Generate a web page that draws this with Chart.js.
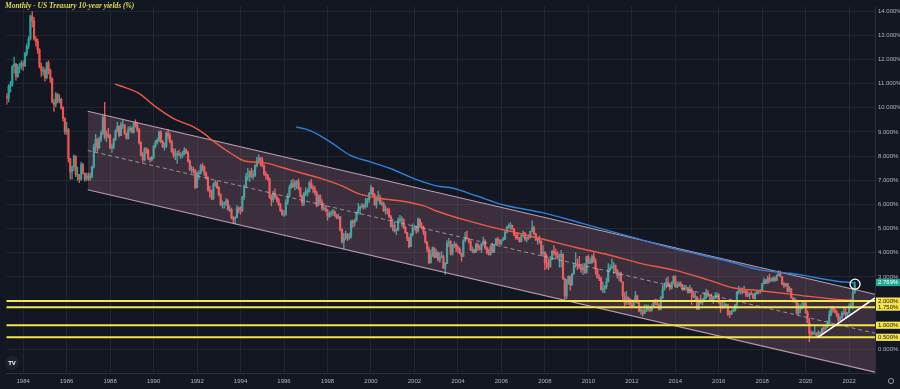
<!DOCTYPE html>
<html><head><meta charset="utf-8">
<script src="https://cdn.jsdelivr.net/npm/chart.js@4.4.0/dist/chart.umd.min.js"></script>
<style>html,body{margin:0;padding:0;background:#131722;overflow:hidden}canvas{display:block}</style>
</head><body><canvas id="c" width="900" height="389"></canvas>
<script>
// ---------- DATA ----------
const title = 'Monthly - US Treasury 10-year yields (%)';
const startYear = 1983, startMonth = 4;   // first monthly candle: April 1983
const firstOpen = 10.50;
const closes = [
/*1983*/ 10.40,10.90,10.98,11.70,11.80,11.30,11.70,11.70,11.83,
/*1984*/ 11.75,12.25,12.55,12.85,13.80,13.60,12.85,12.75,12.40,11.70,11.55,11.55,
/*1985*/ 11.25,11.85,11.55,11.20,10.25,10.15,10.55,10.30,10.35,10.00,9.55,9.00,
/*1986*/ 9.10,7.90,7.35,7.55,8.00,7.25,7.25,7.05,7.65,7.30,7.05,7.20,
/*1987*/ 7.10,7.15,7.55,8.40,8.70,8.35,8.70,8.95,9.60,8.80,8.90,8.85,
/*1988*/ 8.35,8.40,8.70,9.05,9.25,8.85,9.30,9.30,8.95,8.75,9.10,9.15,
/*1989*/ 9.00,9.35,9.30,9.10,8.55,8.05,7.85,8.30,8.25,7.90,7.85,7.95,
/*1990*/ 8.40,8.55,8.65,9.00,8.60,8.40,8.40,8.95,8.85,8.60,8.20,8.05,
/*1991*/ 8.05,8.10,8.05,8.05,8.10,8.25,8.15,7.80,7.45,7.45,7.40,6.70,
/*1992*/ 7.30,7.30,7.60,7.55,7.30,7.10,6.60,6.55,6.25,6.80,6.90,6.70,
/*1993*/ 6.40,6.00,6.00,6.05,6.15,5.80,5.80,5.45,5.40,5.45,5.85,5.80,
/*1994*/ 5.75,6.30,6.75,7.15,7.20,7.35,7.15,7.20,7.60,7.80,7.90,7.85,
/*1995*/ 7.60,7.25,7.20,7.05,6.30,6.20,6.45,6.30,6.20,6.00,5.75,5.60,
/*1996*/ 5.60,6.10,6.35,6.70,6.85,6.75,6.90,6.95,6.70,6.35,6.05,6.45,
/*1997*/ 6.55,6.55,6.90,6.70,6.65,6.50,5.95,6.35,6.10,5.85,5.85,5.75,
/*1998*/ 5.50,5.60,5.65,5.70,5.55,5.45,5.50,4.95,4.45,4.60,4.75,4.65,
/*1999*/ 4.65,5.30,5.25,5.35,5.65,5.80,5.90,5.95,5.90,6.05,6.20,6.45,
/*2000*/ 6.70,6.40,6.00,6.20,6.30,6.05,6.05,5.75,5.80,5.75,5.50,5.10,
/*2001*/ 5.15,4.90,4.95,5.35,5.40,5.40,5.05,4.85,4.60,4.25,4.75,5.05,
/*2002*/ 5.05,4.90,5.40,5.10,5.05,4.85,4.45,4.15,3.60,3.90,4.20,3.80,
/*2003*/ 4.00,3.70,3.80,3.85,3.35,3.55,4.40,4.45,3.95,4.30,4.35,4.25,
/*2004*/ 4.15,3.97,3.85,4.50,4.65,4.60,4.47,4.12,4.12,4.03,4.35,4.22,
/*2005*/ 4.13,4.36,4.48,4.20,4.00,3.92,4.28,4.02,4.33,4.57,4.49,4.39,
/*2006*/ 4.53,4.55,4.85,5.05,5.12,5.14,4.98,4.73,4.63,4.60,4.46,4.70,
/*2007*/ 4.82,4.56,4.64,4.63,4.89,5.03,4.77,4.53,4.58,4.47,3.97,4.03,
/*2008*/ 3.59,3.51,3.41,3.73,4.06,3.97,3.95,3.81,3.83,3.95,2.92,2.21,
/*2009*/ 2.84,3.02,2.67,3.12,3.46,3.53,3.48,3.40,3.31,3.41,3.20,3.84,
/*2010*/ 3.61,3.61,3.84,3.66,3.31,2.97,2.94,2.47,2.52,2.60,2.79,3.30,
/*2011*/ 3.37,3.42,3.47,3.29,3.06,3.16,2.80,2.22,1.92,2.17,2.08,1.88,
/*2012*/ 1.80,1.98,2.21,1.92,1.58,1.65,1.49,1.57,1.64,1.70,1.62,1.76,
/*2013*/ 1.99,1.88,1.85,1.67,2.13,2.49,2.60,2.78,2.61,2.55,2.75,3.03,
/*2014*/ 2.64,2.65,2.72,2.65,2.48,2.53,2.56,2.35,2.49,2.34,2.16,2.17,
/*2015*/ 1.67,2.00,1.93,2.05,2.12,2.35,2.20,2.21,2.04,2.14,2.21,2.27,
/*2016*/ 1.92,1.74,1.77,1.83,1.85,1.47,1.45,1.58,1.59,1.83,2.37,2.44,
/*2017*/ 2.45,2.39,2.39,2.28,2.21,2.31,2.29,2.12,2.33,2.38,2.41,2.40,
/*2018*/ 2.72,2.87,2.74,2.95,2.83,2.86,2.96,2.86,3.06,3.15,3.01,2.69,
/*2019*/ 2.63,2.72,2.41,2.51,2.13,2.01,2.02,1.50,1.67,1.69,1.78,1.92,
/*2020*/ 1.51,1.13,0.67,0.64,0.65,0.66,0.53,0.70,0.68,0.88,0.84,0.91,
/*2021*/ 1.07,1.44,1.74,1.63,1.58,1.47,1.22,1.31,1.49,1.55,1.44,1.51,
/*2022*/ 1.78,1.83,2.34,2.769
];
const highs = [
/*1983*/ 10.60,10.95,11.10,11.75,12.10,11.85,11.80,11.85,11.95,
/*1984*/ 11.95,12.30,12.65,12.95,13.85,13.98,13.75,12.95,12.85,12.45,11.85,11.70,
/*1985*/ 11.65,11.90,11.95,11.60,11.25,10.35,10.65,10.60,10.55,10.40,10.05,9.60,
/*1986*/ 9.40,9.15,7.90,7.60,8.05,8.00,7.55,7.25,7.75,7.70,7.30,7.30,
/*1987*/ 7.30,7.30,7.60,8.50,8.90,8.75,8.80,9.05,9.70,10.23,9.05,9.15,
/*1988*/ 8.90,8.50,8.75,9.10,9.40,9.25,9.40,9.50,9.30,8.95,9.20,9.25,
/*1989*/ 9.20,9.40,9.50,9.40,9.15,8.60,8.15,8.35,8.35,8.30,7.95,8.00,
/*1990*/ 8.45,8.65,8.75,9.05,9.05,8.65,8.55,9.00,9.10,8.95,8.65,8.30,
/*1991*/ 8.30,8.20,8.25,8.15,8.20,8.35,8.30,8.20,7.85,7.60,7.55,7.45,
/*1992*/ 7.35,7.40,7.65,7.70,7.60,7.35,7.15,6.75,6.60,6.90,7.00,6.95,
/*1993*/ 6.75,6.45,6.15,6.10,6.25,6.20,5.95,5.85,5.50,5.50,5.95,5.90,
/*1994*/ 5.90,6.35,6.80,7.30,7.50,7.40,7.50,7.40,7.65,7.95,8.05,7.95,
/*1995*/ 7.95,7.65,7.35,7.25,7.10,6.40,6.55,6.65,6.40,6.25,6.05,5.80,
/*1996*/ 5.75,6.20,6.45,6.80,7.00,7.05,7.00,7.00,7.05,6.70,6.40,6.50,
/*1997*/ 6.70,6.65,6.95,7.05,6.80,6.75,6.55,6.40,6.40,6.20,6.05,5.95,
/*1998*/ 5.80,5.70,5.75,5.80,5.75,5.60,5.60,5.50,5.00,4.80,4.90,4.80,
/*1999*/ 4.80,5.35,5.35,5.40,5.70,6.05,5.95,6.05,6.00,6.25,6.25,6.50,
/*2000*/ 6.80,6.70,6.45,6.35,6.55,6.40,6.15,6.10,5.95,5.85,5.85,5.55,
/*2001*/ 5.40,5.25,5.00,5.45,5.55,5.50,5.40,5.10,4.85,4.65,4.80,5.20,
/*2002*/ 5.15,5.10,5.45,5.40,5.25,5.10,4.90,4.45,4.25,4.10,4.25,4.20,
/*2003*/ 4.15,4.05,4.00,4.05,3.90,3.60,4.50,4.60,4.50,4.35,4.45,4.40,
/*2004*/ 4.30,4.20,4.00,4.55,4.85,4.90,4.60,4.50,4.25,4.15,4.40,4.40,
/*2005*/ 4.30,4.40,4.65,4.55,4.25,4.15,4.30,4.40,4.35,4.60,4.65,4.55,
/*2006*/ 4.55,4.65,4.90,5.10,5.20,5.25,5.15,5.00,4.80,4.80,4.65,4.72,
/*2007*/ 4.90,4.85,4.65,4.75,4.90,5.32,5.10,4.82,4.65,4.70,4.50,4.30,
/*2008*/ 4.05,3.95,3.75,3.85,4.10,4.30,4.15,4.05,3.95,4.10,3.95,2.95,
/*2009*/ 2.90,3.05,3.05,3.15,3.55,4.00,3.75,3.85,3.50,3.55,3.55,3.85,
/*2010*/ 3.90,3.75,3.90,4.00,3.75,3.35,3.10,3.00,2.80,2.65,2.95,3.55,
/*2011*/ 3.50,3.75,3.60,3.50,3.30,3.20,3.20,2.80,2.35,2.40,2.15,2.10,
/*2012*/ 2.05,2.05,2.40,2.25,1.95,1.70,1.65,1.85,1.85,1.85,1.75,1.85,
/*2013*/ 2.05,2.08,2.07,1.90,2.20,2.65,2.75,2.95,3.00,2.75,2.80,3.05,
/*2014*/ 3.05,2.80,2.80,2.80,2.70,2.65,2.65,2.55,2.65,2.55,2.40,2.35,
/*2015*/ 2.20,2.10,2.25,2.10,2.35,2.50,2.45,2.25,2.30,2.20,2.35,2.35,
/*2016*/ 2.30,2.00,2.00,1.95,1.90,1.85,1.60,1.62,1.75,1.87,2.40,2.62,
/*2017*/ 2.55,2.55,2.62,2.45,2.42,2.35,2.40,2.30,2.35,2.45,2.42,2.48,
/*2018*/ 2.75,2.95,2.90,3.03,3.12,2.95,3.00,3.00,3.10,3.25,3.24,3.00,
/*2019*/ 2.78,2.74,2.72,2.60,2.52,2.15,2.14,2.05,1.90,1.85,1.97,1.94,
/*2020*/ 1.95,1.60,1.28,0.77,0.75,0.96,0.70,0.78,0.72,0.88,0.98,0.97,
/*2021*/ 1.18,1.61,1.78,1.77,1.70,1.62,1.48,1.37,1.57,1.70,1.69,1.52,
/*2022*/ 1.90,2.06,2.50,2.80
];
const lows = [
/*1983*/ 10.15,10.25,10.65,10.90,11.45,11.15,11.25,11.45,11.60,
/*1984*/ 11.55,11.70,12.15,12.45,12.80,13.35,12.80,12.55,12.25,11.65,11.30,11.35,
/*1985*/ 11.10,11.20,11.40,11.05,10.20,9.85,10.05,10.20,10.20,9.95,9.45,8.90,
/*1986*/ 8.90,7.75,7.05,7.05,7.40,7.15,7.00,6.90,7.00,7.25,6.95,7.00,
/*1987*/ 7.00,7.00,7.10,7.50,8.20,8.20,8.30,8.60,8.90,8.70,8.60,8.75,
/*1988*/ 8.30,8.15,8.30,8.65,9.00,8.80,8.85,9.15,8.90,8.70,8.70,9.00,
/*1989*/ 8.95,8.95,9.20,9.00,8.50,8.00,7.75,7.80,8.10,7.85,7.75,7.80,
/*1990*/ 7.90,8.35,8.50,8.60,8.55,8.35,8.25,8.35,8.70,8.55,8.15,7.95,
/*1991*/ 7.85,7.70,8.00,7.90,7.95,8.05,8.10,7.75,7.40,7.30,7.30,6.65,
/*1992*/ 6.70,7.05,7.25,7.40,7.20,7.05,6.55,6.30,6.20,6.20,6.75,6.65,
/*1993*/ 6.35,5.95,5.85,5.85,5.95,5.75,5.70,5.40,5.25,5.20,5.45,5.65,
/*1994*/ 5.60,5.70,6.20,6.70,7.00,6.95,7.10,7.05,7.15,7.55,7.70,7.60,
/*1995*/ 7.55,7.20,7.05,7.00,6.25,5.95,6.10,6.25,6.10,5.95,5.70,5.55,
/*1996*/ 5.50,5.55,6.00,6.30,6.65,6.70,6.60,6.65,6.60,6.30,5.95,5.95,
/*1997*/ 6.35,6.35,6.50,6.65,6.50,6.40,5.90,5.95,6.05,5.75,5.75,5.70,
/*1998*/ 5.35,5.45,5.50,5.55,5.50,5.40,5.40,4.90,4.40,4.15,4.55,4.50,
/*1999*/ 4.55,4.60,5.05,5.10,5.30,5.60,5.60,5.85,5.80,5.85,5.90,6.10,
/*2000*/ 6.40,6.35,5.95,5.85,6.15,6.00,5.95,5.70,5.60,5.60,5.45,5.05,
/*2001*/ 4.90,4.85,4.75,4.90,5.25,5.10,5.00,4.80,4.50,4.20,4.25,4.70,
/*2002*/ 4.95,4.80,4.85,5.05,5.00,4.75,4.40,4.05,3.55,3.57,3.85,3.80,
/*2003*/ 3.80,3.65,3.60,3.80,3.35,3.10,3.55,4.25,3.90,3.90,4.20,4.05,
/*2004*/ 4.00,3.95,3.65,3.85,4.45,4.55,4.40,4.10,4.00,3.98,4.00,4.10,
/*2005*/ 4.10,4.00,4.30,4.15,3.95,3.90,3.90,4.00,4.00,4.30,4.35,4.35,
/*2006*/ 4.32,4.50,4.55,4.82,5.00,4.98,4.96,4.70,4.55,4.55,4.44,4.45,
/*2007*/ 4.65,4.50,4.45,4.55,4.60,4.85,4.75,4.50,4.35,4.40,3.90,3.85,
/*2008*/ 3.30,3.35,3.30,3.40,3.70,3.90,3.75,3.75,3.40,3.40,2.90,2.05,
/*2009*/ 2.10,2.70,2.45,2.65,3.10,3.40,3.30,3.35,3.20,3.10,3.15,3.15,
/*2010*/ 3.55,3.55,3.55,3.60,3.10,2.95,2.85,2.45,2.35,2.35,2.50,2.80,
/*2011*/ 3.25,3.35,3.15,3.20,2.95,2.85,2.78,2.05,1.72,1.85,1.85,1.80,
/*2012*/ 1.80,1.80,1.95,1.90,1.55,1.45,1.38,1.47,1.55,1.58,1.55,1.58,
/*2013*/ 1.76,1.85,1.82,1.62,1.63,2.10,2.45,2.55,2.60,2.45,2.50,2.70,
/*2014*/ 2.60,2.58,2.60,2.58,2.43,2.45,2.45,2.33,2.34,1.86,2.15,2.05,
/*2015*/ 1.65,1.65,1.88,1.85,2.00,2.10,2.20,2.00,2.00,1.90,2.10,2.10,
/*2016*/ 1.90,1.53,1.70,1.70,1.80,1.40,1.32,1.50,1.55,1.59,1.70,2.30,
/*2017*/ 2.30,2.30,2.35,2.17,2.18,2.10,2.27,2.09,2.03,2.28,2.30,2.33,
/*2018*/ 2.40,2.70,2.73,2.73,2.76,2.82,2.80,2.81,2.85,3.05,3.00,2.68,
/*2019*/ 2.55,2.61,2.37,2.38,2.12,1.97,1.94,1.46,1.43,1.52,1.68,1.75,
/*2020*/ 1.50,1.10,0.32,0.55,0.60,0.61,0.52,0.50,0.62,0.65,0.74,0.83,
/*2021*/ 0.90,1.06,1.39,1.53,1.51,1.35,1.13,1.17,1.26,1.43,1.33,1.34,
/*2022*/ 1.50,1.72,1.67,2.32
];
// moving averages
const redYears  = [1988.22,1988.70,1989.31,1990.07,1990.99,1991.75,1992.36,1992.81,1993.58,1994.19,1995.10,1996.32,1997.69,1998.75,1999.36,2000.27,2001.49,2002.41,2003.01,2003.78,2004.23,2005.60,2006.65,2007.89,2009.39,2010.95,2012.45,2013.96,2015.51,2016.70,2017.80,2019.30,2020.08,2021.59,2022.27];
const redValues = [10.98,10.84,10.61,10.06,9.52,9.25,8.91,8.58,8.10,7.80,7.72,7.42,7.08,6.74,6.47,6.27,6.13,5.95,5.73,5.50,5.38,5.05,4.84,4.57,4.23,3.91,3.55,3.28,2.88,2.54,2.44,2.29,2.20,2.06,2.03];
const blueYears  = [1996.55,1997.23,1998.14,1999.06,1999.97,2000.89,2001.95,2003.01,2003.78,2004.84,2006.06,2007.89,2009.71,2011.69,2013.97,2016.26,2017.94,2019.30,2021.59,2022.27];
const blueValues = [9.21,9.05,8.58,8.03,7.76,7.49,7.08,6.77,6.67,6.36,5.99,5.66,5.22,4.73,4.16,3.69,3.28,3.15,2.80,2.76];
// regression channel
const channelYears = [1986.97, 2023.19];
const channelUpper = [9.86, 2.28];
const channelMid   = [8.235, 0.67];
const channelLower = [6.61, -0.94];
// horizontal levels and trendline
const levels = [2.0, 1.75, 1.0, 0.5];
const trendYears = [2020.54, 2023.19];
const trendValues = [0.49, 2.13];
const markYear = 2022.27, markValue = 2.70;
const lastPrice = 2.769;
const xTickYears = [1984,1986,1988,1990,1992,1994,1996,1998,2000,2002,2004,2006,2008,2010,2012,2014,2016,2018,2020,2022];
const yTickValues = [0,1,2,3,4,5,6,7,8,9,10,11,12,13,14];

// ---------- STYLE ----------
const X_MIN = 1983.224, X_MAX = 2023.187, Y_MIN = -0.977, Y_MAX = 14.2035;
const BG = '#131722', UP = '#26a69a', DOWN = '#ef5350', YELLOW = '#f5e44b';
const GRID = 'rgba(42,46,57,0.6)', AXIS = '#2a2e39', TXT = '#b2b5be';

// ---------- BUILD ----------
const wickData = [], bodyData = [], colors = [];
for (let i = 0; i < closes.length; i++) {
  const t = startYear + (startMonth - 1 + i) / 12;
  const o = i === 0 ? firstOpen : closes[i - 1];
  const c = closes[i];
  const h = Math.max(o, c, highs[i] ?? c);
  const l = Math.min(o, c, lows[i] ?? c);
  wickData.push({x: t, y: [l, h]});
  bodyData.push({x: t, y: [o, c]});
  colors.push(c >= o ? UP : DOWN);
}
const pts = (xs, ys) => xs.map((x, i) => ({x, y: ys[i]}));
const lineDS = (data, color, width, order, extra) => Object.assign({
  type: 'line', data, borderColor: color, borderWidth: width, pointRadius: 0,
  fill: false, tension: 0, order
}, extra || {});

const datasets = [
  lineDS([{x: markYear, y: markValue}], '#ffffff', 0, 0, {showLine: false, pointRadius: 5, pointBorderColor: '#ffffff', pointBackgroundColor: 'rgba(0,0,0,0)', pointBorderWidth: 1.3}),
  lineDS(pts(trendYears, trendValues), '#ffffff', 1.6, 1),
  ...levels.map((v, k) => lineDS([{x: X_MIN, y: v}, {x: X_MAX, y: v}], YELLOW, 2, 2 + k)),
  lineDS(pts(blueYears, blueValues), '#2f7fd8', 1.4, 6, {cubicInterpolationMode: 'monotone'}),
  lineDS(pts(redYears, redValues), '#ec5a45', 1.4, 7, {cubicInterpolationMode: 'monotone'}),
  lineDS(pts(channelYears, channelMid), 'rgba(200,185,200,0.7)', 1, 8, {borderDash: [4, 3]}),
  lineDS(pts(channelYears, channelUpper), 'rgba(215,180,200,0.85)', 1.1, 9, {fill: '+1', backgroundColor: 'rgba(219,143,169,0.2)'}),
  lineDS(pts(channelYears, channelLower), 'rgba(215,180,200,0.85)', 1.1, 10),
  {type: 'bar', data: bodyData, backgroundColor: colors, borderWidth: 0, barThickness: 1.5, grouped: false, minBarLength: 0.8, order: 11},
  {type: 'bar', data: wickData, backgroundColor: colors, borderWidth: 0, barThickness: 0.7, grouped: false, order: 12}
];

const deco = {
  id: 'deco',
  beforeDraw(chart) {
    const {ctx, width, height} = chart;
    ctx.save(); ctx.fillStyle = BG; ctx.fillRect(0, 0, width, height); ctx.restore();
  },
  afterDraw(chart) {
    const {ctx, chartArea} = chart;
    const ys = chart.scales.y;
    const left = chartArea.right;
    ctx.save();
    ctx.font = '6px "Liberation Sans", Arial, sans-serif';
    ctx.textBaseline = 'middle';
    ctx.textAlign = 'left';
    // current price tag
    let py = ys.getPixelForValue(lastPrice);
    ctx.fillStyle = '#22ab94';
    ctx.fillRect(left + 1, py - 3.6, 25, 7.2);
    ctx.fillStyle = '#ffffff';
    ctx.fillText(lastPrice.toFixed(3) + '%', left + 3, py + 0.3);
    // level tags
    levels.forEach(v => {
      const p = ys.getPixelForValue(v);
      ctx.fillStyle = YELLOW;
      ctx.fillRect(left + 1, p - 3.6, 25, 7.2);
      ctx.fillStyle = '#131722';
      ctx.fillText(v.toFixed(3) + '%', left + 3, p + 0.3);
    });
    // title
    ctx.font = 'italic bold 7.5px "Liberation Serif", serif';
    ctx.fillStyle = '#dedc52';
    ctx.fillText(title, 5, 6.5);
    // logo
    ctx.beginPath(); ctx.arc(12, 363, 7, 0, Math.PI * 2);
    ctx.fillStyle = '#1e222d'; ctx.fill();
    ctx.font = 'bold 6px "Liberation Sans", Arial, sans-serif';
    ctx.fillStyle = '#ffffff'; ctx.textAlign = 'center';
    ctx.fillText('TV', 12, 363.5);
    // settings gear
    ctx.beginPath(); ctx.arc(891, 381, 2.6, 0, Math.PI * 2);
    ctx.strokeStyle = '#9598a1'; ctx.lineWidth = 1; ctx.stroke();
    ctx.restore();
  }
};

new Chart(document.getElementById('c'), {
  type: 'bar',
  data: {datasets},
  options: {
    responsive: false, animation: false, devicePixelRatio: 1, events: [],
    layout: {padding: 0},
    plugins: {legend: {display: false}, tooltip: {enabled: false}, title: {display: false}},
    scales: {
      x: {
        type: 'linear', position: 'bottom', min: X_MIN, max: X_MAX, offset: false,
        grid: {color: GRID, drawTicks: false, offset: false},
        border: {display: true, color: AXIS, width: 1},
        ticks: {color: TXT, font: {size: 6, family: '"Liberation Sans", Arial, sans-serif'}, padding: 5, autoSkip: false, maxRotation: 0, includeBounds: false, callback: v => String(v)},
        afterBuildTicks: s => { s.ticks = xTickYears.map(v => ({value: v})); },
        afterFit: s => { s.height = 16; s.paddingLeft = 0; s.paddingRight = 0; }
      },
      y: {
        type: 'linear', position: 'right', min: Y_MIN, max: Y_MAX, beginAtZero: false,
        grid: {color: GRID, drawTicks: false},
        border: {display: true, color: AXIS, width: 1},
        ticks: {color: TXT, font: {size: 6, family: '"Liberation Sans", Arial, sans-serif'}, padding: 3, autoSkip: false, includeBounds: false, callback: v => Number(v).toFixed(3) + '%'},
        afterBuildTicks: s => { s.ticks = yTickValues.map(v => ({value: v})); },
        afterFit: s => { s.width = 25; s.paddingTop = 0; s.paddingBottom = 0; }
      }
    }
  },
  plugins: [deco]
});
</script></body></html>
